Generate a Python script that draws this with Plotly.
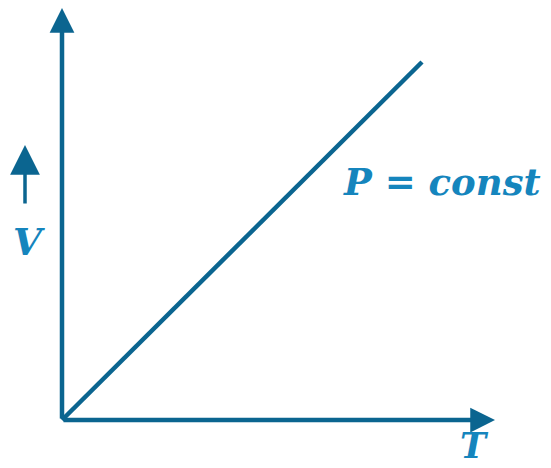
import plotly.graph_objects as go

# Data (in chart units; origin at the axes' corner)
t_vals = [0, 360]          # temperature T
v_vals = [0, 358]          # volume V
x_axis_end = 433
y_axis_end = 412
line_label = "P = const"
x_label = "T"
y_label = "V"

LINE = "#0b6590"
TEXT = "#1585bd"

fig = go.Figure()

# V-T line
fig.add_trace(go.Scatter(x=t_vals, y=v_vals, mode="lines",
                         line=dict(color=LINE, width=4.5), hoverinfo="skip"))

# axes with arrows
fig.add_annotation(x=x_axis_end, y=0, ax=0, ay=0, xref="x", yref="y", axref="x", ayref="y",
                   showarrow=True, arrowhead=2, arrowsize=1.1, arrowwidth=4.5, arrowcolor=LINE, text="")
fig.add_annotation(x=0, y=y_axis_end, ax=0, ay=0, xref="x", yref="y", axref="x", ayref="y",
                   showarrow=True, arrowhead=2, arrowsize=1.1, arrowwidth=4.5, arrowcolor=LINE, text="")
# small arrow next to V
fig.add_annotation(x=-37, y=275, ax=-37, ay=215, xref="x", yref="y", axref="x", ayref="y",
                   showarrow=True, arrowhead=2, arrowsize=1.7, arrowwidth=3.5, arrowcolor=LINE, text="")

fig.add_annotation(x=380, y=238, xref="x", yref="y", text="<b><i>" + line_label + "</i></b>",
                   showarrow=False, font=dict(family="DejaVu Serif", size=37, color=TEXT))
fig.add_annotation(x=-33, y=178, xref="x", yref="y", text="<b><i>" + y_label + "</i></b>",
                   showarrow=False, font=dict(family="DejaVu Serif", size=37, color=TEXT))
fig.add_annotation(x=412, y=-25, xref="x", yref="y", text="<b><i>" + x_label + "</i></b>",
                   showarrow=False, font=dict(family="DejaVu Serif", size=35, color=TEXT))

fig.update_xaxes(range=[-62, 489], visible=False, fixedrange=True)
fig.update_yaxes(range=[-48, 420], visible=False, fixedrange=True)
fig.update_layout(width=551, height=468, margin=dict(l=0, r=0, t=0, b=0),
                  paper_bgcolor="white", plot_bgcolor="white", showlegend=False)

fig.write_html("out.html", config={"displayModeBar": False},
               post_script="document.body.style.margin='0';document.body.style.overflow='hidden';")
